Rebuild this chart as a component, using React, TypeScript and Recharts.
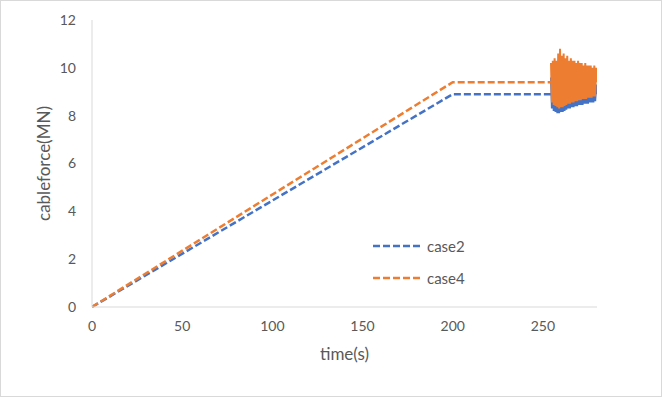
import { LineChart, Line, XAxis, YAxis, Legend } from "recharts";

// 時刻と張力（ランプ部分）
const rampTime = [0, 200, 254.5];
const case2RampForce = [0, 8.9, 8.9];
const case4RampForce = [0, 9.4, 9.4];

// 振動部分の時刻
const oscTime = [
  254.5, 255, 255.5, 256, 256.5, 257, 257.5, 258, 258.5, 259, 259.5, 260,
  260.5, 261, 261.5, 262, 262.5, 263, 263.5, 264, 264.5, 265, 265.5, 266,
  266.5, 267, 267.5, 268, 268.5, 269, 269.5, 270, 270.5, 271, 271.5, 272,
  272.5, 273, 273.5, 274, 274.5, 275, 275.5, 276, 276.5, 277, 277.5, 278,
  278.5, 279, 279.5, 280,
];
const case2OscForce = [
  9.6, 8.3, 9.6, 8.2, 9.7, 8.15, 9.6, 8.1, 9.7, 8.1, 9.8, 8.15,
  9.6, 8.15, 9.7, 8.2, 9.6, 8.25, 9.6, 8.3, 9.5, 8.3, 9.6, 8.35,
  9.5, 8.35, 9.5, 8.4, 9.5, 8.4, 9.4, 8.45, 9.5, 8.45, 9.4, 8.45,
  9.4, 8.5, 9.4, 8.5, 9.4, 8.5, 9.3, 8.55, 9.4, 8.55, 9.3, 8.55,
  9.3, 8.6, 9.3, 8.9,
];
const case4OscForce = [
  10.2, 8.55, 10.3, 8.45, 10.4, 8.4, 10.3, 8.35, 10.6, 8.3, 10.8, 8.35,
  10.5, 8.35, 10.6, 8.4, 10.4, 8.45, 10.5, 8.5, 10.3, 8.5, 10.4, 8.55,
  10.3, 8.55, 10.3, 8.6, 10.2, 8.6, 10.3, 8.65, 10.2, 8.65, 10.2, 8.7,
  10.1, 8.7, 10.2, 8.7, 10.1, 8.75, 10.1, 8.75, 10.1, 8.75, 10.0, 8.8,
  10.1, 8.8, 10.0, 9.4,
];

const xTicks = [0, 50, 100, 150, 200, 250];
const yTicks = [0, 2, 4, 6, 8, 10, 12];
const seriesNames = ["case2", "case4"];
const seriesColors = ["#4472C4", "#ED7D31"];

const toPoints = (ts: number[], fs: number[]) => ts.map((t, i) => ({ t, f: fs[i] }));

const case2Ramp = toPoints(rampTime, case2RampForce);
const case4Ramp = toPoints(rampTime, case4RampForce);
const case2Osc = toPoints(oscTime, case2OscForce);
const case4Osc = toPoints(oscTime, case4OscForce);

const FONT = "Lato, 'Noto Sans', sans-serif";
const TEXT = "#595959";

function LegendBox() {
  return (
    <div style={{ fontFamily: FONT, fontSize: 15, color: TEXT }}>
      {seriesNames.map((name, idx) => (
        <div key={name} style={{ display: "flex", alignItems: "center", height: 32 }}>
          <svg width={52} height={6}>
            <line
              x1={1}
              y1={3}
              x2={50}
              y2={3}
              stroke={seriesColors[idx]}
              strokeWidth={2.5}
              strokeDasharray="7 3"
            />
          </svg>
          <span style={{ marginLeft: 3 }}>{name}</span>
        </div>
      ))}
    </div>
  );
}

export default function App() {
  return (
    <div
      style={{
        position: "absolute",
        left: 0,
        top: 0,
        width: 662,
        height: 397,
        border: "1px solid #d9d9d9",
        boxSizing: "border-box",
        background: "#fff",
      }}
    >
      <LineChart
        width={660}
        height={395}
        margin={{ top: 19, right: 64, left: 0, bottom: 39 }}
      >
        <XAxis
          type="number"
          dataKey="t"
          domain={[0, 280]}
          ticks={xTicks}
          allowDataOverflow
          tickLine={false}
          tickMargin={8}
          stroke="#d9d9d9"
          tick={{ fill: TEXT, fontSize: 14, fontFamily: FONT }}
          height={50}
          label={(props: any) => {
            const vb = props.viewBox;
            return (
              <text
                x={vb.x + vb.width / 2}
                y={352}
                textAnchor="middle"
                dominantBaseline="central"
                fill={TEXT}
                fontSize={17}
                fontFamily={FONT}
              >
                time(s)
              </text>
            );
          }}
        />
        <YAxis
          type="number"
          domain={[0, 12]}
          ticks={yTicks}
          tickLine={false}
          tickMargin={10}
          stroke="#d9d9d9"
          width={91}
          tick={{ fill: TEXT, fontSize: 14, fontFamily: FONT }}
          label={(props: any) => {
            const vb = props.viewBox;
            const cy = vb.y + vb.height / 2;
            return (
              <text
                x={42}
                y={cy}
                transform={`rotate(-90, 42, ${cy})`}
                textAnchor="middle"
                dominantBaseline="central"
                fill={TEXT}
                fontSize={17}
                fontFamily={FONT}
              >
                cableforce(MN)
              </text>
            );
          }}
        />
        <Legend
          layout="vertical"
          align="center"
          verticalAlign="middle"
          content={() => <LegendBox />}
          wrapperStyle={{ position: "absolute", left: 371, top: 229, width: "auto" }}
        />
        <Line
          data={case2Ramp}
          dataKey="f"
          name="case2"
          stroke={seriesColors[0]}
          strokeWidth={2.5}
          strokeDasharray="7 3"
          dot={false}
          type="linear"
          isAnimationActive={false}
        />
        <Line
          data={case2Osc}
          dataKey="f"
          name="case2 osc"
          legendType="none"
          stroke={seriesColors[0]}
          strokeWidth={2}
          dot={false}
          type="linear"
          isAnimationActive={false}
        />
        <Line
          data={case4Ramp}
          dataKey="f"
          name="case4"
          stroke={seriesColors[1]}
          strokeWidth={2.5}
          strokeDasharray="7 3"
          dot={false}
          type="linear"
          isAnimationActive={false}
        />
        <Line
          data={case4Osc}
          dataKey="f"
          name="case4 osc"
          legendType="none"
          stroke={seriesColors[1]}
          strokeWidth={2}
          dot={false}
          type="linear"
          isAnimationActive={false}
        />
      </LineChart>
    </div>
  );
}
